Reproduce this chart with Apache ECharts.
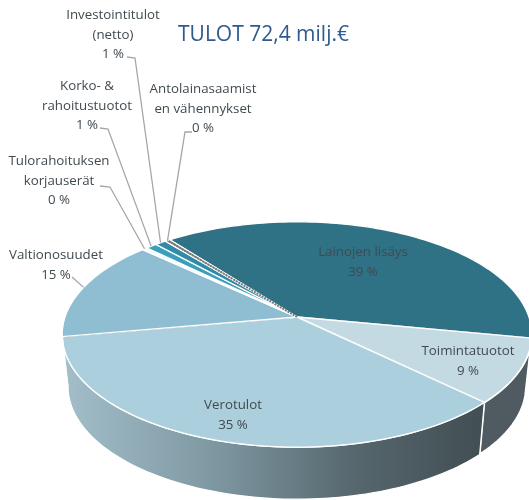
<!DOCTYPE html>
<html>
<head>
<meta charset="utf-8">
<style>
html, body { margin: 0; padding: 0; background: #fff; }
#chart { width: 529px; height: 500px; }
</style>
<script src="https://cdn.jsdelivr.net/npm/echarts@6/dist/echarts.min.js"></script>
</head>
<body>
<div id="chart"></div>
<script>
// values, clockwise from Lainojen lisäys
const names = ['Lainojen lisäys', 'Toimintatuotot', 'Verotulot', 'Valtionosuudet',
    'Tulorahoituksen\nkorjauserät', 'Korko- &\nrahoitustuotot', 'Investointitulot\n(netto)', 'Antolainasaamist\nen vähennykset'];
const values = [38.5, 9.2, 35.0, 14.6, 0.4, 0.9, 0.9, 0.4];
const colors = ['#2f7285', '#c4dae3', '#abcfdc', '#8fbdd1', '#f4fafc', '#3c9fba', '#2f8ba7', '#8a8a8a'];

// where each text sits: [x, y], and the elbow of its leader line (null = no leader)
const labelPos = [[363, 262], [468, 361], [233, 415], [56, 265], [59, 181], [87, 106], [113, 35], [203, 109]];
const leaderFrom = [null, null, null, [[72, 277]], [[100, 186], [110, 187]], [[100, 128], [108, 129]], [[127, 57], [135, 58]], [[192, 132], [185, 132]]];

// pie geometry, the apex sits above the middle of the ellipse because of the perspective
const cx = 297, cy = 317, rx = 232, ry = 110, persp = 0.155, depth = 52;
const startAngle = -38;

function project(deg, dy, scale) {
    const a = deg * Math.PI / 180;
    const x = Math.sin(a), y = -Math.cos(a);
    const w = 1 - persp * y;
    return [cx + rx * scale * x / w, cy + ry * y / w + dy];
}

function arc(from, to, dy, scale) {
    const pts = [];
    const n = Math.max(2, Math.ceil(Math.abs(to - from) / 1.5));
    for (let i = 0; i <= n; i++) pts.push(project(from + (to - from) * i / n, dy, scale));
    return pts;
}

const total = values.reduce((a, b) => a + b, 0);
const angles = [];
let acc = startAngle;
values.forEach(v => {
    angles.push([acc, acc + v / total * 360]);
    acc += v / total * 360;
});

const wallFill = new echarts.graphic.LinearGradient(62, 0, 485, 0, [
    { offset: 0, color: '#a3bfca' },
    { offset: 0.35, color: '#7f99a3' },
    { offset: 0.7, color: '#55666c' },
    { offset: 1, color: '#414e53' }
], true);

function renderSlice(params, api) {
    const i = params.dataIndex;
    const a = angles[i][0], b = angles[i][1];
    const top = [[cx, cy]].concat(arc(a, b, 0, 1));
    const kids = [];

    // only the front of the rim is visible
    const wa = Math.max(a, 99), wb = Math.min(b, 261);
    if (wb > wa) {
        const pts = arc(wa, wb, 0, 1).concat(arc(wb, wa, depth, 0.975));
        kids.push({
            type: 'polygon',
            shape: { points: pts },
            style: { fill: i === 1 ? '#4f5a61' : wallFill, stroke: '#fff', lineWidth: i === 1 ? 2 : 1.2 }
        });
    }

    kids.push({
        type: 'polygon',
        shape: { points: top },
        style: { fill: colors[i], stroke: '#fff', lineWidth: 1.4 }
    });

    // seams between slices
    const edge = project(b, 0, 1);
    if (i < 3) {
        kids.push({
            type: 'line',
            shape: { x1: cx, y1: cy, x2: edge[0], y2: edge[1] },
            style: { stroke: '#5c6a70', lineWidth: 1 }
        });
    }
    if (i === values.length - 1) {
        const e = project(a + (b - a) / 2, 0, 1);
        kids.push({
            type: 'line',
            shape: { x1: cx, y1: cy, x2: e[0], y2: e[1] },
            style: { stroke: '#777', lineWidth: 2, lineDash: [2, 1] }
        });
    }

    // leader line ends on the rim at the slice middle
    if (leaderFrom[i]) {
        kids.push({
            type: 'polyline',
            shape: { points: leaderFrom[i].concat([project((a + b) / 2, 0, 1)]) },
            style: { fill: 'none', stroke: '#a6a6a6', lineWidth: 1.3 }
        });
    }

    kids.push({
        type: 'text',
        z2: 10,
        style: {
            text: names[i] + '\n' + Math.round(api.value(0)) + ' %',
            x: labelPos[i][0],
            y: labelPos[i][1],
            align: 'center',
            verticalAlign: 'middle',
            fontFamily: 'Open Sans',
            fontSize: 13.3,
            lineHeight: 19.5,
            fill: '#404a50'
        }
    });
    return { type: 'group', children: kids };
}

const chart = echarts.init(document.getElementById('chart'));
chart.setOption({
    animation: false,
    title: {
        text: 'TULOT 72,4 milj.€',
        left: 173,
        top: 20,
        textStyle: { color: '#2f5a8f', fontSize: 21, fontWeight: 'normal', fontFamily: 'Open Sans' }
    },
    series: [{
        type: 'custom',
        coordinateSystem: 'none',
        data: values.map(v => [v]),
        renderItem: renderSlice,
        silent: true
    }]
});
</script>
</body>
</html>
